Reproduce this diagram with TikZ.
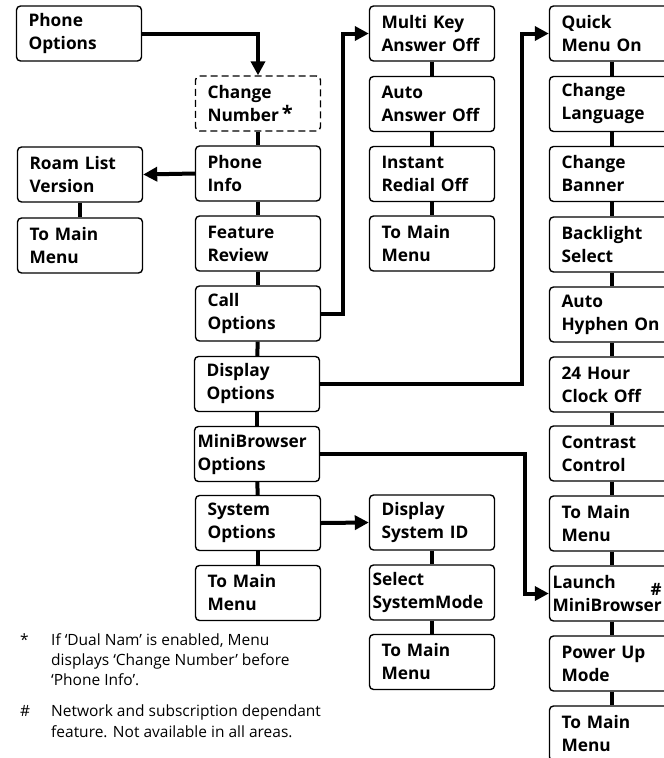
\documentclass[tikz,border=0pt]{standalone}
\usepackage{fontspec}
\setmainfont{Open Sans}
\usetikzlibrary{arrows.meta}
\begin{document}
\begin{tikzpicture}[x=1pt,y=-1pt,
  box/.style={draw, line width=1.4pt, rounded corners=4pt, minimum width=124pt,
    minimum height=55pt, text width=101pt, inner xsep=12pt, inner ysep=2pt, align=left,
    font=\fontsize{17.3}{23}\selectfont\bfseries},
  longbox/.style={box, text width=119pt, inner xsep=3pt},
  dbox/.style={box, dashed, dash pattern=on 7pt off 4pt},
  conn/.style={line width=4pt},
  arr/.style={line width=4pt, -{Triangle[length=14pt,width=14pt]}},
  note/.style={anchor=base west, inner sep=0pt, font=\fontsize{15.5}{20}\selectfont}]
\clip (0,0) rectangle (664,758);
\useasboundingbox (0,0) rectangle (664,758);
% column 0
\node[box] (po) at (79,33.5) {Phone\\Options};
\node[box] (rl) at (80,174.5) {Roam List\\Version};
\node[box] (tm0) at (80,245.5) {To Main\\Menu};
% column 1
\node[dbox] (cn) at (258,103.5) {Change\\Number\,\raisebox{1pt}{\fontsize{20}{20}\selectfont *}};
\node[box] (pi) at (258,173.5) {Phone\\Info};
\node[box] (fr) at (258,243.5) {Feature\\Review};
\node[box] (co) at (258,313.5) {Call\\Options};
\node[box] (do) at (257,384) {Display\\Options};
\node[longbox] (mb) at (257,454) {MiniBrowser\\Options};
\node[box] (so) at (258,523) {System\\Options};
\node[box] (tm1) at (258,593) {To Main\\Menu};
% column 2
\node[box] (mk) at (432,33.5) {Multi Key\\Answer Off};
\node[box] (aa) at (432,104) {Auto\\Answer Off};
\node[box] (ir) at (432,174) {Instant\\Redial Off};
\node[box] (tm2) at (432,243.5) {To Main\\Menu};
\node[box] (ds) at (432,522.5) {Display\\System ID};
\node[longbox] (ss) at (432,592.5) {Select\\SystemMode};
\node[box] (tm3) at (432,662) {To Main\\Menu};
% column 3
\node[box] (qm) at (612,33.5) {Quick\\Menu On};
\node[box] (cl) at (612,104) {Change\\Language};
\node[box] (cb) at (612,174) {Change\\Banner};
\node[box] (bs) at (612,244.5) {Backlight\\Select};
\node[box] (ah) at (612,314.5) {Auto\\Hyphen On};
\node[box] (hc) at (612,384.5) {24 Hour\\Clock Off};
\node[box] (cc) at (612,453.5) {Contrast\\Control};
\node[box] (tm4) at (612,523.5) {To Main\\Menu};
\node[longbox] (lm) at (612,593.5) {Launch\\MiniBrowser};
\node[font=\fontsize{17}{20}\selectfont\bfseries, inner sep=0pt] (hash) at (656,589) {\#};
\node[box] (pu) at (612,663.5) {Power Up\\Mode};
\node[box] (tm5) at (612,733.5) {To Main\\Menu};
% vertical connectors
\draw[conn] (cn) -- (pi);
\draw[conn] (pi) -- (fr);
\draw[conn] (fr) -- (co);
\draw[conn] (co) -- (do);
\draw[conn] (do) -- (mb);
\draw[conn] (mb) -- (so);
\draw[conn] (so) -- (tm1);
\draw[conn] (rl) -- (tm0);
\draw[conn] (mk) -- (aa);
\draw[conn] (aa) -- (ir);
\draw[conn] (ir) -- (tm2);
\draw[conn] (ds) -- (ss);
\draw[conn] (ss) -- (tm3);
\draw[conn] (qm) -- (cl);
\draw[conn] (cl) -- (cb);
\draw[conn] (cb) -- (bs);
\draw[conn] (bs) -- (ah);
\draw[conn] (ah) -- (hc);
\draw[conn] (hc) -- (cc);
\draw[conn] (cc) -- (tm4);
\draw[conn] (tm4) -- (lm);
\draw[conn] (lm) -- (pu);
\draw[conn] (pu) -- (tm5);
% arrows
\draw[arr] (po.east) -| (cn.north);
\draw[arr] (pi.west) -- (rl.east);
\draw[arr] (co.east) -- ++(22,0) |- (mk.west);
\draw[arr] (do.east) -- ++(202,0) |- (qm.west);
\draw[arr] (mb.east) -- ++(205,0) |- (lm.west);
\draw[arr] (so.east) -- (ds.west);
% notes
\node[note] (n1s) at (20,645) {*};
\node[note] (n1) at (51,645) {\parbox[t]{320pt}{\fontsize{15.5}{20}\selectfont If ‘Dual Nam’ is enabled, Menu\\displays ‘Change Number’ before\\‘Phone Info’.}};
\node[note] (n2s) at (20,716) {\#};
\node[note] (n2) at (51,716) {\parbox[t]{320pt}{\fontsize{15.5}{21}\selectfont Network and subscription dependant\\feature. Not available in all areas.}};
\end{tikzpicture}
\end{document}
